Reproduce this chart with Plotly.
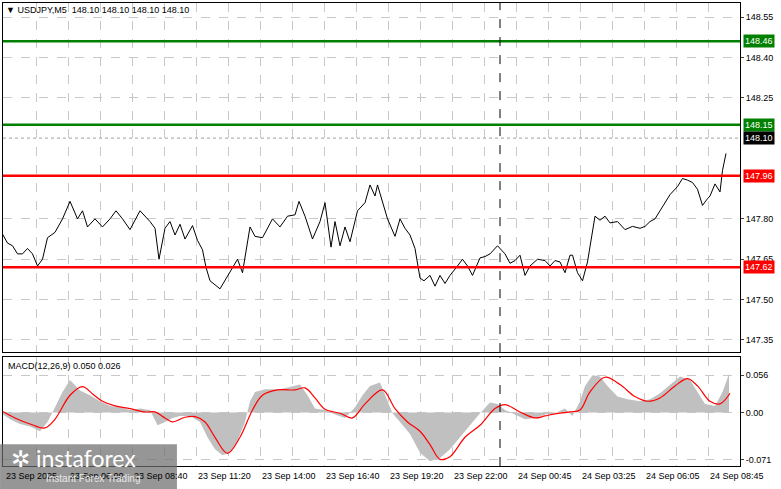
import plotly.graph_objects as go

price_bar = [0,3.75,6.25,8.75,11.25,13.75,16.25,18.75,21.25,23.75,27.5,31.25,35,38.75,41.25,43.75,47.5,51.25,55,58,61.25,65,70,75,77.5,79.5,82.5,85,87.5,90,92.5,96.25,98.75,101.25,103,105,110,115,118.75,121.25,125,127.5,131.25,136.25,140,143.75,147.5,149.5,152.5,156.25,160,162.5,165.5,167.5,170,172.5,175,178.75,182.5,185,187.5,188.75,191.25,193.75,197.5,200,202.5,205,207.5,210,212,215,217.5,220,222.5,225,228.75,231.25,233.75,236.25,240,242.5,245,248.75,252.5,255,257.5,260,262.5,265,268.75,272.5,275,277.5,280,282.5,285,286.25,288.75,291.25,293.75,296.25,297.5,300,302.5,305,308.75,312.5,316.25,320,322.5,325,327.5,330,332.5,335,338.75,341.25,343.75,346.25,348.75,351.25,353.75,355,357.5,360,361.25,362.5,363]
price_close = [147.76,147.71,147.70,147.67,147.67,147.69,147.67,147.625,147.65,147.73,147.75,147.80,147.865,147.80,147.83,147.77,147.80,147.77,147.80,147.83,147.80,147.76,147.83,147.79,147.765,147.65,147.765,147.79,147.74,147.78,147.725,147.775,147.72,147.685,147.62,147.57,147.54,147.60,147.65,147.60,147.77,147.735,147.73,147.80,147.77,147.81,147.815,147.865,147.81,147.725,147.79,147.86,147.695,147.79,147.70,147.77,147.715,147.83,147.86,147.926,147.885,147.926,147.86,147.80,147.735,147.80,147.765,147.74,147.69,147.58,147.57,147.59,147.55,147.59,147.56,147.59,147.625,147.65,147.625,147.59,147.655,147.66,147.67,147.70,147.67,147.635,147.645,147.665,147.59,147.625,147.65,147.645,147.625,147.645,147.64,147.60,147.665,147.665,147.60,147.57,147.64,147.745,147.81,147.795,147.81,147.785,147.79,147.76,147.772,147.765,147.772,147.79,147.80,147.83,147.86,147.89,147.92,147.95,147.944,147.935,147.91,147.85,147.875,147.885,147.93,147.90,147.98,148.02,148.043,148.07,148.10]

macd_bar = [0,5,10,15,20,23.75,27.5,31.25,35,40,45,50,55,60,65,70,75,78.75,82.5,86.25,90,95,100,103.75,107.5,111.25,115,118.75,122.5,125,127.5,132.5,140,145,150,153.75,157.5,162.5,167.5,172.5,177.5,181.25,185,190,192.5,196.25,200,205,210,215,220,225,230,235,240,245,248.75,252.5,257.5,262.5,267.5,272.5,277.5,282.5,286.25,290,292.5,296.25,300,303.75,308.75,313.75,320,325,330,335,340,345,348.75,352.5,357.5,361.25,364.5]
macd_hist = [0,-0.010,-0.017,-0.021,-0.028,-0.014,0.008,0.031,0.049,0.033,0.026,0.017,0.010,0.008,0.004,0.006,0.004,-0.019,-0.014,-0.008,-0.005,-0.005,-0.014,-0.037,-0.055,-0.064,-0.060,-0.042,-0.014,0.017,0.031,0.035,0.035,0.038,0.042,0.026,0.006,0.004,-0.003,-0.008,0.008,0.026,0.040,0.045,0.026,-0.001,-0.014,-0.032,-0.060,-0.073,-0.068,-0.055,-0.037,-0.019,-0.001,0.015,0.013,0.004,-0.003,-0.010,-0.008,-0.003,-0.001,0.006,-0.005,0.017,0.040,0.056,0.054,0.040,0.024,0.020,0.017,0.020,0.029,0.042,0.054,0.049,0.031,0.013,0.010,0.031,0.058]

sig_bar = [0,7.5,15,22.5,27.5,35,41.25,46.25,51.25,57.5,65,72.5,77.5,82.5,86.25,92.5,97.5,102.5,107.5,113.75,120,126.25,131.25,138.75,147.5,152.5,157.5,162.5,170,176.25,182.5,191.25,197.5,203.75,210,215,220,225,232.5,240,247.5,252.5,260,267.5,272.5,277.5,285,290,295,302.5,310,317.5,323.75,330,337.5,343.75,348.75,355,360,365]
sig_vals = [0.004,-0.008,-0.017,-0.023,-0.010,0.026,0.039,0.028,0.017,0.010,0.006,0.001,0.001,-0.008,-0.014,-0.007,-0.006,-0.014,-0.037,-0.061,-0.037,0.004,0.026,0.034,0.034,0.037,0.022,0.005,-0.001,-0.008,0.013,0.034,0.006,-0.014,-0.028,-0.048,-0.070,-0.066,-0.037,-0.019,0.006,0.012,0.001,-0.008,-0.005,-0.002,0.001,0.004,0.031,0.053,0.042,0.024,0.017,0.022,0.040,0.051,0.040,0.017,0.013,0.029]

time_labels = ["23 Sep 2025","23 Sep 06:00","23 Sep 08:40","23 Sep 11:20","23 Sep 14:00","23 Sep 16:40","23 Sep 19:20","23 Sep 22:00","24 Sep 00:45","24 Sep 03:25","24 Sep 06:05","24 Sep 08:45"]
label_bars = [2,34,66,98,130,162,194,226,258,290,322,354]
price_ticks = [148.55,148.40,148.25,147.80,147.65,147.50,147.35]
levels = [(148.46,"#008000"),(148.15,"#008000"),(147.96,"#ff0000"),(147.62,"#ff0000")]
current = 148.10

F = "Liberation Sans"
fig = go.Figure()
fig.add_trace(go.Scatter(x=price_bar, y=price_close, mode="lines", line=dict(color="black", width=1), xaxis="x", yaxis="y"))
fig.add_trace(go.Scatter(x=macd_bar, y=macd_hist, mode="lines", line=dict(color="#c0c0c0", width=0), fill="tozeroy", fillcolor="#c0c0c0", xaxis="x2", yaxis="y2"))
fig.add_trace(go.Scatter(x=sig_bar, y=sig_vals, mode="lines", line=dict(color="red", width=1.2, shape="spline"), xaxis="x2", yaxis="y2"))

grid = dict(showgrid=True, gridcolor="#c8c8c8", griddash="dash", gridwidth=1, zeroline=False,
            showline=True, linecolor="black", linewidth=1, mirror=True)
xr = [1.5, 370]
gv = [2 + 16*k for k in range(24)]
fig.update_layout(
    width=781, height=489, margin=dict(l=3, r=41, t=3, b=23, autoexpand=False),
    paper_bgcolor="white", plot_bgcolor="white", showlegend=False,
    font=dict(family=F, size=9, color="black"),
    xaxis=dict(domain=[0,1], range=xr, tickvals=gv, showticklabels=False, ticks="", anchor="y", automargin=False, **grid),
    xaxis2=dict(domain=[0,1], range=xr, tickvals=gv, showticklabels=False, ticks="", anchor="y2", automargin=False, **grid),
    yaxis=dict(domain=[0.246,1], range=[147.305,148.602], side="right", tickvals=price_ticks, automargin=False,
               ticktext=[f"{v:.2f}" for v in price_ticks], ticks="outside", ticklen=3, anchor="x", **grid),
    yaxis2=dict(domain=[0,0.235], range=[-0.080,0.083], side="right", tickvals=[0.056,0.0,-0.071], automargin=False,
                ticktext=["0.056","0.00","-0.071"], ticks="outside", ticklen=3, anchor="x2", **grid),
)
for v, c in levels:
    fig.add_shape(type="line", xref="x", yref="y", x0=xr[0], x1=xr[1], y0=v, y1=v, line=dict(color=c, width=2.5))
    fig.add_annotation(xref="paper", yref="y", x=1.004, y=v, text=f"{v:.2f}", showarrow=False, xanchor="left",
                       bgcolor=c, font=dict(color="white", size=9, family=F), borderpad=1)
fig.add_shape(type="line", xref="x", yref="y", x0=xr[0], x1=xr[1], y0=current, y1=current, line=dict(color="#a0a0a0", width=1, dash="dot"))
fig.add_annotation(xref="paper", yref="y", x=1.004, y=current, text=f"{current:.2f}", showarrow=False, xanchor="left",
                   bgcolor="black", font=dict(color="white", size=9, family=F), borderpad=1)
for yr in ["y", "y2"]:
    fig.add_shape(type="line", xref="x" if yr == "y" else "x2", yref=yr + " domain", x0=250, x1=250, y0=0, y1=1,
                  line=dict(color="black", width=1, dash="dash"))
for b, t in zip(label_bars, time_labels):
    fig.add_annotation(xref="x2", yref="paper", x=b, y=-0.006, text=t, showarrow=False, xanchor="left", yanchor="top",
                       font=dict(size=9, family=F))
fig.add_annotation(xref="paper", yref="paper", x=0.002, y=0.999, text="▼ USDJPY,M5  148.10 148.10 148.10 148.10",
                   showarrow=False, xanchor="left", yanchor="top", font=dict(size=9, family=F))
fig.add_annotation(xref="paper", yref="paper", x=0.004, y=0.232, text="MACD(12,26,9) 0.050 0.026",
                   showarrow=False, xanchor="left", yanchor="top", font=dict(size=9, family=F))
# watermark
fig.add_shape(type="rect", xref="paper", yref="paper", x0=-0.004, x1=0.236, y0=-0.05, y1=0.047,
              fillcolor="rgba(110,110,110,0.72)", line=dict(width=0))
fig.add_annotation(xref="paper", yref="paper", x=0.008, y=0.052, text="✲ instaforex", showarrow=False,
                   xanchor="left", yanchor="top", font=dict(size=23, color="white", family="Lato"))
fig.add_annotation(xref="paper", yref="paper", x=0.055, y=-0.01, text="Instant Forex Trading", showarrow=False,
                   xanchor="left", yanchor="top", font=dict(size=10, color="#e8e8e8", family=F))
fig.write_html("out.html", config={"displayModeBar": False})
with open("out.html", encoding="utf-8") as f:
    html = f.read()
html = html.replace("<head>", "<head><style>html,body{margin:0;padding:0;overflow:hidden}</style>", 1)
with open("out.html", "w", encoding="utf-8") as f:
    f.write(html)
